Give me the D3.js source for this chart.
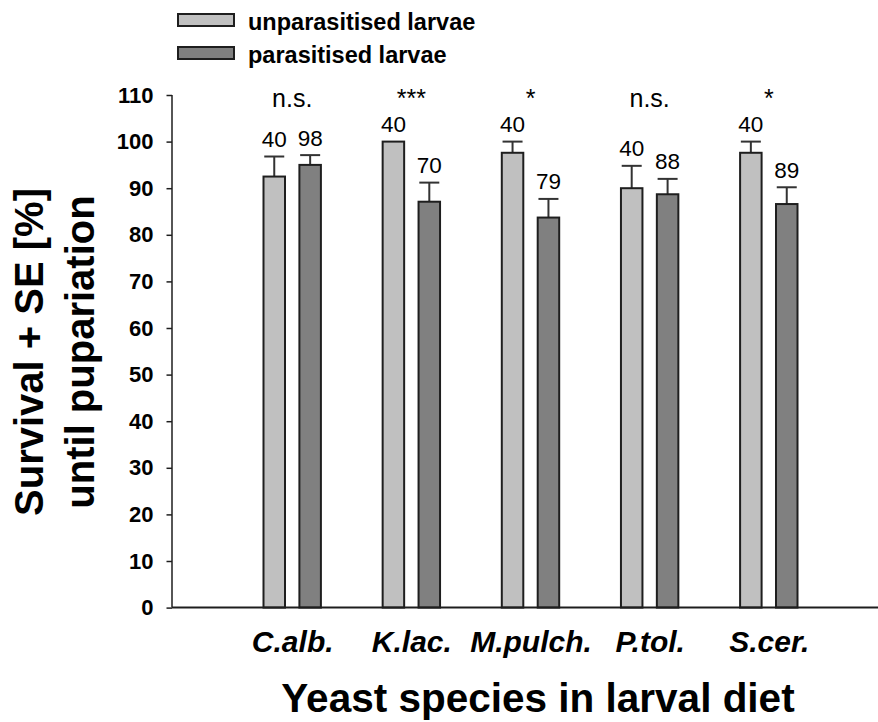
<!DOCTYPE html>
<html>
<head>
<meta charset="utf-8">
<script src="https://cdn.jsdelivr.net/npm/d3@7"></script>
<style>
  body { margin: 0; background: #fff; }
  text { font-family: "Liberation Sans", Arial, sans-serif; }
</style>
</head>
<body>
<script>
const w = 878;
const h = 722;

// data
const categories = ["C.alb.", "K.lac.", "M.pulch.", "P.tol.", "S.cer."];
const unparasitised = [92.5, 100, 97.6, 90.0, 97.6];
const unparasitisedSE = [4.3, 0, 2.4, 4.8, 2.4];
const parasitised = [95.0, 87.1, 83.7, 88.7, 86.6];
const parasitisedSE = [2.1, 4.1, 4.0, 3.3, 3.6];
const nUnparasitised = [40, 40, 40, 40, 40];
const nParasitised = [98, 70, 79, 88, 89];
const significance = ["n.s.", "***", "*", "n.s.", "*"];
const yTicks = [0, 10, 20, 30, 40, 50, 60, 70, 80, 90, 100, 110];
const seriesNames = ["unparasitised larvae", "parasitised larvae"];

const lightFill = "#c0c0c0";
const darkFill = "#808080";
const lineColor = "#1e1e1e";

const plotLeft = 172;
const plotRight = 878;
const barW = 21.5;
const barGap = 7.2;

var svg = d3.select("body")
            .append("svg")
            .attr("width", w)
            .attr("height", h)

const xScale = d3.scalePoint()
                 .domain(categories)
                 .range([292.2, 768.8]);

const yScale = d3.scaleLinear()
                 .domain([0, 110])
                 .range([607.6, 95]);

// one row per bar
const bars = [];
categories.forEach((c, i) => {
  bars.push({cat: c, value: unparasitised[i], se: unparasitisedSE[i], n: nUnparasitised[i], offset: -barGap - barW, fill: lightFill});
  bars.push({cat: c, value: parasitised[i], se: parasitisedSE[i], n: nParasitised[i], offset: barGap, fill: darkFill});
});

const chart = svg.append("g");

// error bars first so bar outline sits on top
const err = chart.selectAll(".err")
                 .data(bars.filter(d => d.se > 0))
                 .enter()
                 .append("g")
                 .attr("class", "err")
                 .attr("stroke", "#333")
                 .attr("stroke-width", 2);

err.append("line")
   .attr("x1", d => xScale(d.cat) + d.offset + barW / 2)
   .attr("x2", d => xScale(d.cat) + d.offset + barW / 2)
   .attr("y1", d => yScale(d.value))
   .attr("y2", d => yScale(d.value + d.se));

err.append("line")
   .attr("x1", d => xScale(d.cat) + d.offset + barW / 2 - 10)
   .attr("x2", d => xScale(d.cat) + d.offset + barW / 2 + 10)
   .attr("y1", d => yScale(d.value + d.se))
   .attr("y2", d => yScale(d.value + d.se));

chart.selectAll(".bar")
     .data(bars)
     .enter()
     .append("rect")
     .attr("class", "bar")
     .attr("x", d => xScale(d.cat) + d.offset)
     .attr("y", d => yScale(d.value))
     .attr("width", barW)
     .attr("height", d => yScale(0) - yScale(d.value))
     .style("fill", d => d.fill)
     .style("stroke", lineColor)
     .style("stroke-width", 2);

// sample sizes above bars
chart.selectAll(".nlabel")
     .data(bars)
     .enter()
     .append("text")
     .attr("class", "nlabel")
     .attr("x", d => xScale(d.cat) + d.offset + barW / 2)
     .attr("y", d => yScale(d.value + d.se) - 9.5)
     .attr("text-anchor", "middle")
     .attr("font-size", 22.5)
     .text(d => d.n);

// significance marks
chart.selectAll(".sig")
     .data(categories)
     .enter()
     .append("text")
     .attr("class", "sig")
     .attr("x", d => xScale(d))
     .attr("y", 106.5)
     .attr("text-anchor", "middle")
     .attr("font-size", 25)
     .text((d, i) => significance[i]);

// axes
const yAxis = d3.axisLeft(yScale)
                .tickValues(yTicks)
                .tickSize(5.5)
                .tickPadding(13);

const yG = chart.append("g")
                .attr("transform", "translate(" + plotLeft + ",0)")
                .call(yAxis);
yG.select(".domain").remove();
yG.selectAll("line").attr("stroke", lineColor).attr("stroke-width", 1.5);
yG.selectAll("text")
  .attr("font-family", "'Liberation Sans', Arial, sans-serif")
  .attr("font-size", 22)
  .attr("font-weight", "bold")
  .attr("fill", "#000");

chart.append("line")
     .attr("x1", plotLeft)
     .attr("x2", plotLeft)
     .attr("y1", yScale(110))
     .attr("y2", yScale(0))
     .attr("stroke", lineColor)
     .attr("stroke-width", 1.5);

chart.append("line")
     .attr("x1", plotLeft)
     .attr("x2", plotRight)
     .attr("y1", yScale(0))
     .attr("y2", yScale(0))
     .attr("stroke", lineColor)
     .attr("stroke-width", 2);

const xAxis = d3.axisBottom(xScale)
                .tickSize(0)
                .tickPadding(23);

const xG = chart.append("g")
                .attr("transform", "translate(0," + yScale(0) + ")")
                .call(xAxis);
xG.select(".domain").remove();
xG.selectAll("text")
  .attr("font-family", "'Liberation Sans', Arial, sans-serif")
  .attr("font-size", 30)
  .attr("font-weight", "bold")
  .attr("font-style", "italic")
  .attr("fill", "#000");

// axis titles
chart.append("text")
     .text("Yeast species in larval diet")
     .attr("x", 538)
     .attr("y", 712)
     .attr("text-anchor", "middle")
     .attr("font-size", 40.5)
     .attr("font-weight", "bold");

const yTitle = chart.append("g")
                    .attr("transform", "translate(0,352) rotate(-90)");
yTitle.append("text")
      .text("Survival + SE [%]")
      .attr("x", 0)
      .attr("y", 43)
      .attr("text-anchor", "middle")
      .attr("font-size", 40)
      .attr("font-weight", "bold");
yTitle.append("text")
      .text("until pupariation")
      .attr("x", 0)
      .attr("y", 94)
      .attr("text-anchor", "middle")
      .attr("font-size", 40)
      .attr("font-weight", "bold");

// legend
const legend = chart.selectAll(".legend")
                    .data(seriesNames)
                    .enter()
                    .append("g")
                    .attr("class", "legend")
                    .attr("transform", (d, i) => "translate(178," + (14 + i * 33) + ")");

legend.append("rect")
      .attr("width", 56)
      .attr("height", 12)
      .style("fill", (d, i) => i === 0 ? lightFill : darkFill)
      .style("stroke", lineColor)
      .style("stroke-width", 2);

legend.append("text")
      .text(d => d)
      .attr("x", 70)
      .attr("y", 15.5)
      .attr("font-size", 23.5)
      .attr("font-weight", "bold");
</script>
</body>
</html>
